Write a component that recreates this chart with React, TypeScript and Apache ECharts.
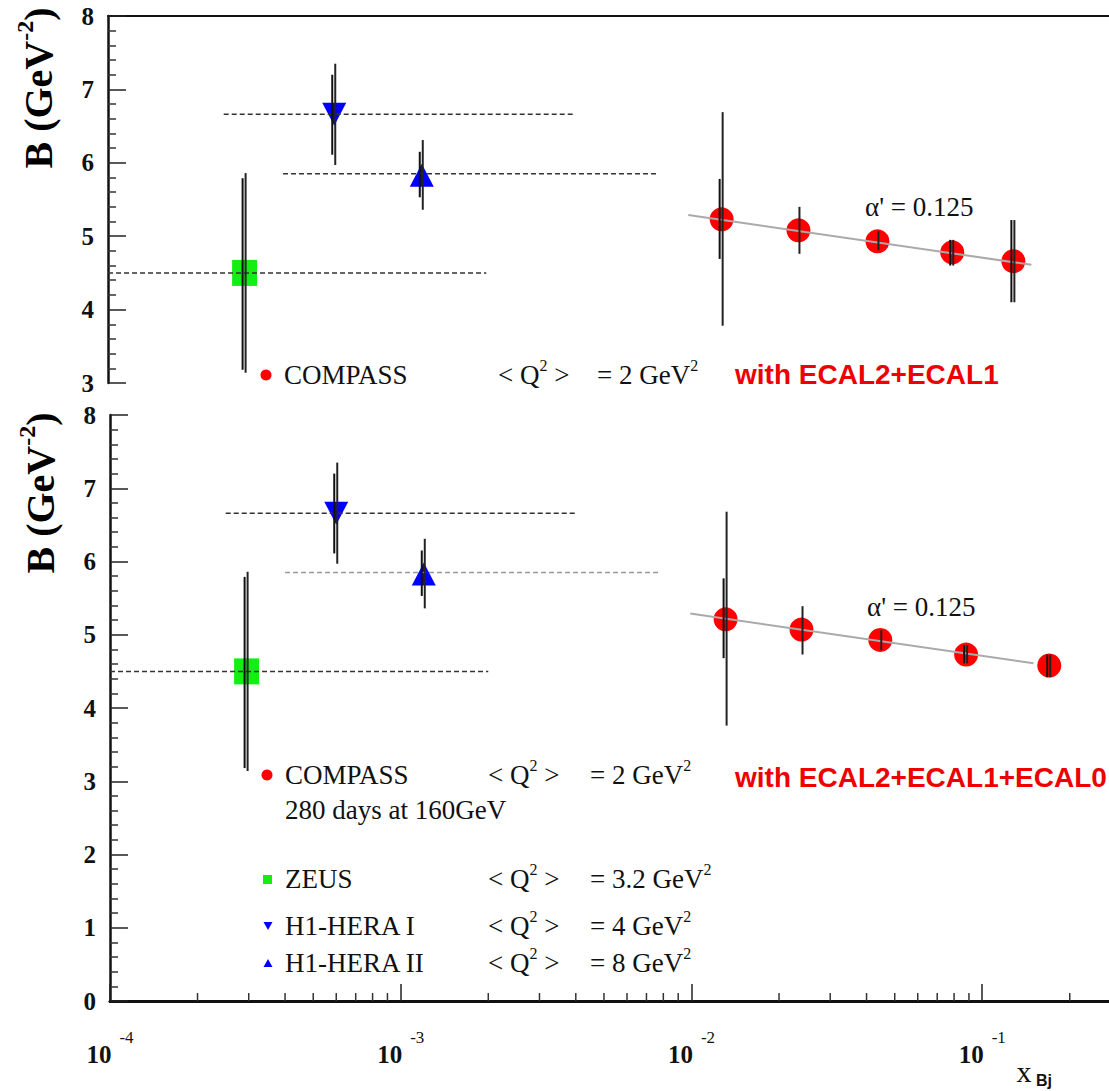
import React, { useEffect, useRef } from "react";
import * as echarts from "echarts";

// ---------- data ----------
const zeusX = [2.95e-4];
const zeusY = [4.5];
const zeusErrLo = [3.14];
const zeusErrHi = [5.86];
const zeusStatLo = [3.18];
const zeusStatHi = [5.79];
const zeusRange = [1e-4, 2e-3];

const h1aX = [6.0e-4];
const h1aY = [6.66];
const h1aErrLo = [5.97];
const h1aErrHi = [7.35];
const h1aStatLo = [6.11];
const h1aStatHi = [7.2];
const h1aRange = [2.5e-4, 4e-3];

const h1bX = [1.2e-3];
const h1bY = [5.83];
const h1bErrLo = [5.36];
const h1bErrHi = [6.31];
const h1bStatLo = [5.53];
const h1bStatHi = [6.15];
const h1bRange = [4e-4, 7.7e-3];

const compassTopX = [0.0129, 0.0237, 0.0443, 0.0801, 0.13];
const compassTopY = [5.23, 5.08, 4.93, 4.78, 4.66];
const compassTopErrLo = [3.78, 4.76, 4.81, 4.6, 4.1];
const compassTopErrHi = [6.69, 5.4, 5.07, 4.95, 5.22];
const compassTopStatLo = [4.69, null, null, 4.6, 4.1];
const compassTopStatHi = [5.78, null, null, 4.95, 5.22];

const compassBotX = [0.0131, 0.0239, 0.0446, 0.088, 0.17];
const compassBotY = [5.21, 5.07, 4.93, 4.73, 4.58];
const compassBotErrLo = [3.76, 4.73, 4.79, 4.61, 4.42];
const compassBotErrHi = [6.68, 5.39, 5.06, 4.86, 4.73];
const compassBotStatLo = [4.68, null, null, 4.61, 4.42];
const compassBotStatHi = [5.77, null, null, 4.86, 4.73];

const fitX = [0.0099, 0.15];
const fitY = [5.29, 4.61];

const xTickExp = [-4, -3, -2, -1];
const xTickSup = ["-4", "-3", "-2", "-1"];
const xMinorMant = [2, 3, 4, 5, 6, 7, 8, 9];
const xMinorDecades = [1e-4, 1e-3, 1e-2, 1e-1];

// ---------- styles ----------
const SERIF = "'Liberation Serif', 'Times New Roman', serif";
const SANS = "'Liberation Sans', Arial, sans-serif";
const INK = "#111";
const RED = "#ff0000";
const GREEN = "#14ee14";
const BLUE = "#0000ff";
const FS = 27;

function errData(xs, ys, lo, hi, slo, shi) {
  return xs.map((x, i) => [x, ys[i], lo[i], hi[i], slo[i] == null ? NaN : slo[i], shi[i] == null ? NaN : shi[i]]);
}

function errSeries(data, xi, yi) {
  return {
    type: "custom",
    xAxisIndex: xi,
    yAxisIndex: yi,
    z: 6,
    silent: true,
    encode: { x: 0, y: 1 },
    data,
    renderItem: (params, api) => {
      const x = api.value(0);
      const a = api.coord([x, api.value(2)]);
      const b = api.coord([x, api.value(3)]);
      const children = [
        {
          type: "line",
          shape: { x1: a[0] + 1, y1: a[1], x2: b[0] + 1, y2: b[1] },
          style: { stroke: "#222", lineWidth: 2 },
        },
      ];
      const sl = api.value(4);
      const sh = api.value(5);
      if (!isNaN(sl) && !isNaN(sh)) {
        const c = api.coord([x, sl]);
        const d = api.coord([x, sh]);
        children.push({
          type: "line",
          shape: { x1: c[0] - 2, y1: c[1], x2: d[0] - 2, y2: d[1] },
          style: { stroke: "#111", lineWidth: 2 },
        });
      }
      return { type: "group", children };
    },
  };
}

function rangeSeries(range, y, xi, yi, color) {
  return {
    type: "line",
    xAxisIndex: xi,
    yAxisIndex: yi,
    z: 5,
    silent: true,
    symbol: "none",
    data: [
      [range[0], y],
      [range[1], y],
    ],
    lineStyle: { color, width: 1.5, type: [5, 3] },
  };
}

function scatter(xs, ys, xi, yi, symbol, size, color, rotate) {
  return {
    type: "scatter",
    xAxisIndex: xi,
    yAxisIndex: yi,
    z: 3,
    silent: true,
    symbol,
    symbolSize: size,
    symbolRotate: rotate || 0,
    itemStyle: { color, opacity: 1 },
    data: xs.map((x, i) => [x, ys[i]]),
  };
}

function panelSeries(xi, yi, cx, cy, elo, ehi, slo, shi, h1bColor) {
  return [
    scatter(zeusX, zeusY, xi, yi, "rect", [25, 26], GREEN, 0),
    scatter(h1aX, h1aY, xi, yi, "triangle", [24, 23], BLUE, 180),
    scatter(h1bX, h1bY, xi, yi, "triangle", [24, 23], BLUE, 0),
    scatter(cx, cy, xi, yi, "circle", 24, RED, 0),
    rangeSeries(zeusRange, zeusY[0], xi, yi, "#333"),
    rangeSeries(h1aRange, h1aY[0], xi, yi, "#333"),
    rangeSeries(h1bRange, h1bY[0] + 0.02, xi, yi, h1bColor),
    {
      type: "line",
      xAxisIndex: xi,
      yAxisIndex: yi,
      z: 4,
      silent: true,
      symbol: "none",
      data: fitX.map((x, i) => [x, fitY[i]]),
      lineStyle: { color: "#aaa", width: 2 },
    },
    errSeries(errData(zeusX, zeusY, zeusErrLo, zeusErrHi, zeusStatLo, zeusStatHi), xi, yi),
    errSeries(errData(h1aX, h1aY, h1aErrLo, h1aErrHi, h1aStatLo, h1aStatHi), xi, yi),
    errSeries(errData(h1bX, h1bY, h1bErrLo, h1bErrHi, h1bStatLo, h1bStatHi), xi, yi),
    errSeries(errData(cx, cy, elo, ehi, slo, shi), xi, yi),
  ];
}

const yLabel = {
  color: INK,
  fontFamily: SERIF,
  fontWeight: "bold",
  fontSize: 25,
  margin: 14,
};

function yAxis(gridIndex, min, max) {
  return {
    type: "value",
    gridIndex,
    min,
    max,
    interval: 1,
    axisLine: { show: true, lineStyle: { color: INK, width: 2.5 } },
    axisTick: { show: true, inside: true, length: 18, lineStyle: { color: "#222", width: 1.5 } },
    minorTick: { show: true, splitNumber: 5, length: 8, lineStyle: { color: "#333", width: 1.5 } },
    splitLine: { show: false },
    minorSplitLine: { show: false },
    axisLabel: yLabel,
  };
}

const supRich = { fontFamily: SERIF, fontSize: 16, color: INK, padding: [0, 0, 20, 0] };
const txt = { fontFamily: SERIF, fontSize: FS, color: INK };

function text(x, y, t) {
  return {
    type: "text",
    x,
    y,
    silent: true,
    style: {
      text: t,
      font: FS + "px " + SERIF,
      fill: INK,
      align: "left",
      verticalAlign: "middle",
      rich: { n: txt, s: supRich },
    },
  };
}

function ecalText(x, y, t) {
  return {
    type: "text",
    x,
    y,
    silent: true,
    style: {
      text: t,
      font: "bold 28px " + SANS,
      fill: "#ee0000",
      align: "left",
      verticalAlign: "middle",
    },
  };
}

function yTitle(x, y) {
  return {
    type: "text",
    x,
    y,
    rotation: Math.PI / 2,
    silent: true,
    style: {
      text: "{b|B (GeV}{s|-2}{b|)}",
      align: "center",
      verticalAlign: "middle",
      rich: {
        b: { fontFamily: SERIF, fontWeight: "bold", fontSize: 40, color: INK },
        s: { fontFamily: SERIF, fontWeight: "bold", fontSize: 24, color: INK, padding: [0, 0, 26, 0] },
      },
    },
  };
}

function legendRow(y, marker, name, eq, xQ, xEq) {
  return [marker, text(285, y, "{n|" + name + "}"), text(xQ, y, "{n|< Q}{s|2}{n| >}"), text(xEq, y, eq)];
}

function tri(cx, cy, down) {
  const h = 8;
  const w = 9;
  const pts = down
    ? [
        [cx - w / 2, cy - h / 2],
        [cx + w / 2, cy - h / 2],
        [cx, cy + h / 2],
      ]
    : [
        [cx - w / 2, cy + h / 2],
        [cx + w / 2, cy + h / 2],
        [cx, cy - h / 2],
      ];
  return { type: "polygon", silent: true, shape: { points: pts }, style: { fill: BLUE } };
}

export default function App() {
  const ref = useRef(null);
  useEffect(() => {
    const chart = echarts.init(ref.current, null, { renderer: "svg" });
    const xMinor = [];
    xMinorDecades.forEach((d) => xMinorMant.forEach((m) => xMinor.push([m * d, 0])));

    const option = {
      animation: false,
      backgroundColor: "#fff",
      grid: [
        { left: 108, top: 16, width: 1163, height: 367, containLabel: false, outerBoundsMode: "none" },
        { left: 110, top: 415, width: 1163, height: 586, containLabel: false, outerBoundsMode: "none" },
      ],
      xAxis: [
        {
          type: "log",
          gridIndex: 0,
          logBase: 10,
          min: 1e-4,
          max: 1,
          position: "bottom",
          axisLine: { show: false },
          axisTick: { show: false },
          axisLabel: { show: false },
          splitLine: { show: false },
        },
        {
          type: "log",
          gridIndex: 0,
          logBase: 10,
          min: 1e-4,
          max: 1,
          position: "top",
          axisLine: { show: true, lineStyle: { color: INK, width: 2 } },
          axisTick: { show: false },
          axisLabel: { show: false },
          splitLine: { show: false },
        },
        {
          type: "log",
          gridIndex: 1,
          logBase: 10,
          min: 1e-4,
          max: 1,
          position: "bottom",
          axisLine: { show: true, onZero: false, lineStyle: { color: INK, width: 3 } },
          axisTick: { show: true, inside: true, length: 17, lineStyle: { color: "#222", width: 1.5 } },
          splitLine: { show: false },
          axisLabel: {
            margin: 28,
            showMaxLabel: false,
            formatter: (v) => {
              const e = Math.round(Math.log10(v));
              const i = xTickExp.indexOf(e);
              if (i < 0) return "";
              return "{b|10}{s|" + xTickSup[i] + "}";
            },
            rich: {
              b: { fontFamily: SERIF, fontWeight: "bold", fontSize: 25, color: INK },
              s: { fontFamily: SERIF, fontSize: 17, color: INK, padding: [0, 0, 34, 8] },
            },
          },
        },
        {
          type: "log",
          gridIndex: 1,
          logBase: 10,
          min: 1e-4,
          max: 1,
          position: "top",
          axisLine: { show: true, lineStyle: { color: INK, width: 2.5 } },
          axisTick: { show: false },
          axisLabel: { show: false },
          splitLine: { show: false },
        },
      ],
      yAxis: [yAxis(0, 3, 8), yAxis(1, 0, 8)],
      series: [
        ...panelSeries(0, 0, compassTopX, compassTopY, compassTopErrLo, compassTopErrHi, compassTopStatLo, compassTopStatHi, "#333"),
        ...panelSeries(2, 1, compassBotX, compassBotY, compassBotErrLo, compassBotErrHi, compassBotStatLo, compassBotStatHi, "#999"),
        {
          type: "custom",
          xAxisIndex: 2,
          yAxisIndex: 1,
          silent: true,
          z: 7,
          encode: { x: 0, y: 1 },
          data: xMinor,
          renderItem: (params, api) => {
            const c = api.coord([api.value(0), api.value(1)]);
            return {
              type: "line",
              shape: { x1: c[0], y1: c[1], x2: c[0], y2: c[1] - 8 },
              style: { stroke: "#333", lineWidth: 1.5 },
            };
          },
        },
      ],
      graphic: [
        yTitle(38, 88),
        yTitle(40, 493),
        // top panel annotations
        text(865, 207, "{n|α' = 0.125}"),
        { type: "circle", silent: true, shape: { cx: 266, cy: 375, r: 5.5 }, style: { fill: RED } },
        text(284, 375, "{n|COMPASS}"),
        text(498, 375, "{n|< Q}{s|2}{n| >}"),
        text(597, 375, "{n|= 2 GeV}{s|2}"),
        ecalText(735, 374, "with ECAL2+ECAL1"),
        // bottom panel annotations
        text(867, 607, "{n|α' = 0.125}"),
        ...legendRow(
          775,
          { type: "circle", silent: true, shape: { cx: 267, cy: 775, r: 5.5 }, style: { fill: RED } },
          "COMPASS",
          "{n|= 2 GeV}{s|2}",
          488,
          590
        ),
        text(285, 810, "{n|280 days at 160GeV}"),
        ...legendRow(
          879,
          { type: "rect", silent: true, shape: { x: 263, y: 875, width: 9, height: 9 }, style: { fill: GREEN } },
          "ZEUS",
          "{n|= 3.2 GeV}{s|2}",
          488,
          590
        ),
        ...legendRow(926, tri(268, 926, true), "H1-HERA I", "{n|= 4 GeV}{s|2}", 488, 590),
        ...legendRow(963, tri(268, 963, false), "H1-HERA II", "{n|= 8 GeV}{s|2}", 488, 590),
        ecalText(735, 777, "with ECAL2+ECAL1+ECAL0"),
        // x axis title
        {
          type: "text",
          x: 1024,
          y: 1071,
          silent: true,
          style: { text: "x", font: "30px " + SERIF, fill: INK, align: "center", verticalAlign: "middle" },
        },
        {
          type: "text",
          x: 1044,
          y: 1080,
          silent: true,
          style: { text: "Bj", font: "bold 16px " + SANS, fill: INK, align: "center", verticalAlign: "middle" },
        },
      ],
    };
    chart.setOption(option);
    return () => chart.dispose();
  }, []);
  return (
    <div
      ref={ref}
      style={{ position: "fixed", left: 0, top: 0, width: 1109, height: 1091, background: "#fff" }}
    />
  );
}
